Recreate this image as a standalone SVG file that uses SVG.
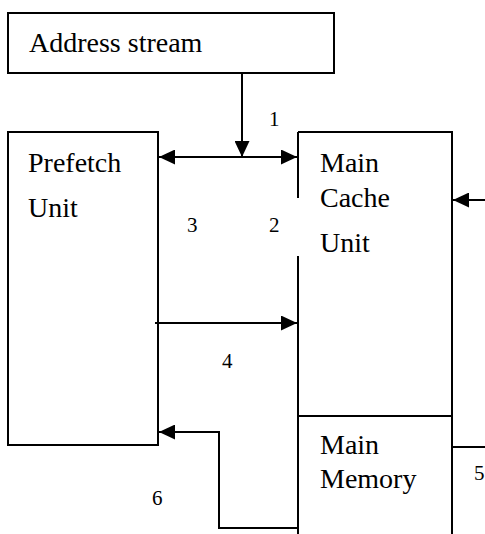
<svg xmlns="http://www.w3.org/2000/svg" width="485" height="534" viewBox="0 0 485 534">
  <style>
    .box { fill: #fff; stroke: #000; stroke-width: 2; }
    .edge { fill: none; stroke: #000; stroke-width: 2; }
    text { font-family: 'Liberation Serif', 'Times New Roman', serif; fill: #000; }
    .lbl { font-size: 28px; }
    .num { font-size: 21px; }
  </style>
  <defs>
    <marker id="head" markerUnits="userSpaceOnUse" markerWidth="17" markerHeight="15" refX="16" refY="7.5" orient="auto-start-reverse">
      <path d="M0,0 L16,7.5 L0,15 Z" fill="#000"/>
    </marker>
  </defs>
  <rect width="485" height="534" fill="#fff"/>

  <g id="address-stream">
    <rect class="box" x="8" y="13" width="326" height="60"/>
    <text class="lbl" x="29" y="52">Address stream</text>
  </g>

  <g id="prefetch-unit">
    <rect class="box" x="8" y="132" width="150" height="313"/>
    <text class="lbl" x="28" y="172">Prefetch</text>
    <text class="lbl" x="28" y="217">Unit</text>
  </g>

  <g id="main-cache-unit">
    <!-- outline drawn as separate sides; the left side is broken around label 2 -->
    <path class="edge" d="M298,132 H452 V534"/>
    <path class="edge" d="M298,132 V198 M298,256 V416"/>
    <text class="lbl" x="320" y="172">Main</text>
    <text class="lbl" x="320" y="207">Cache</text>
    <text class="lbl" x="320" y="252">Unit</text>
  </g>

  <g id="main-memory">
    <path class="edge" d="M298,416 H452 M298,416 V534"/>
    <text class="lbl" x="320" y="454">Main</text>
    <text class="lbl" x="320" y="488">Memory</text>
  </g>

  <g id="connectors">
    <line class="edge" x1="242" y1="73" x2="242" y2="157" marker-end="url(#head)"/>
    <line class="edge" x1="159" y1="157" x2="297" y2="157" marker-start="url(#head)" marker-end="url(#head)"/>
    <line class="edge" x1="485" y1="200" x2="453" y2="200" marker-end="url(#head)"/>
    <line class="edge" x1="155" y1="323" x2="297" y2="323" marker-end="url(#head)"/>
    <line class="edge" x1="452" y1="447" x2="485" y2="447"/>
    <polyline class="edge" points="298,528 219,528 219,432 159,432" marker-end="url(#head)"/>
  </g>

  <g id="labels">
    <text class="num" x="269" y="126">1</text>
    <text class="num" x="269" y="232">2</text>
    <text class="num" x="187" y="232">3</text>
    <text class="num" x="222" y="368">4</text>
    <text class="num" x="474" y="480">5</text>
    <text class="num" x="152" y="505">6</text>
  </g>
</svg>
